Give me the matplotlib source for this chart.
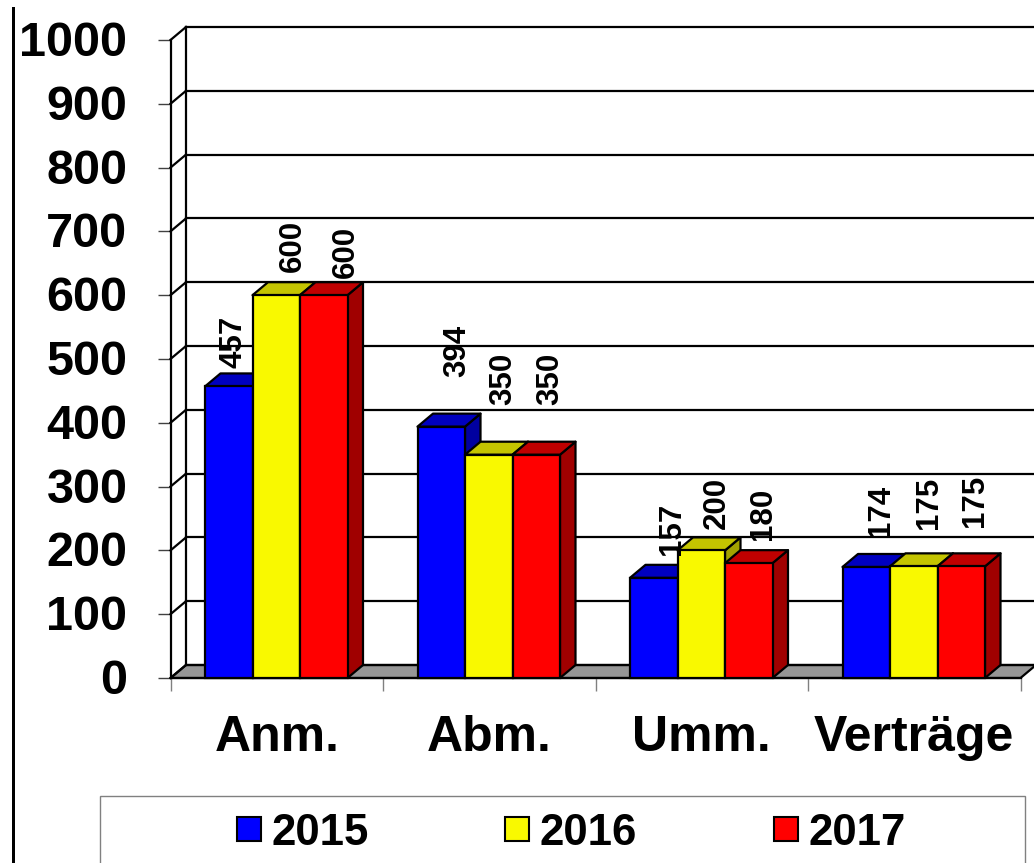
import matplotlib
matplotlib.use('Agg')
import matplotlib.pyplot as plt
from matplotlib.patches import Polygon, Rectangle, Patch
from matplotlib.transforms import ScaledTranslation

plt.rcParams['font.family'] = ['Liberation Sans', 'DejaVu Sans']
plt.rcParams['font.weight'] = 'bold'

categories = ['Anm.', 'Abm.', 'Umm.', 'Verträge']
years = ['2015', '2016', '2017']
values_2015 = [457, 394, 157, 174]
values_2016 = [600, 350, 200, 175]
values_2017 = [600, 350, 180, 175]
y_ticks = [0, 100, 200, 300, 400, 500, 600, 700, 800, 900, 1000]

series = [values_2015, values_2016, values_2017]
front_colors = ['#0000ff', '#f9f900', '#ff0000']
top_colors = ['#0000c0', '#c4c400', '#c00000']
side_colors = ['#0000a0', '#a3a300', '#a00000']

W, H = 1034, 863
DPI = 100
AX_LEFT, AX_RIGHT, AX_BOTTOM, AX_TOP = 170.5, 1020.5, 678, 40

fig = plt.figure(figsize=(W / DPI, H / DPI), dpi=DPI)
ax = fig.add_axes([AX_LEFT / W, 1 - AX_BOTTOM / H,
                   (AX_RIGHT - AX_LEFT) / W, (AX_BOTTOM - AX_TOP) / H])
ax.set_xlim(0, 4)
ax.set_ylim(0, 1000)
ax.patch.set_visible(False)
for spine in ax.spines.values():
    spine.set_visible(False)

# 3D depth, pixels converted to data units
dx = 15.5 / 212.5
dy = 13 / 0.638
bar_w = 47.5 / 212.5
bar_start = 34.5 / 212.5
EDGE = 1.6


def poly(points, color, z, lw=EDGE):
    ax.add_patch(Polygon(points, closed=True, facecolor=color, edgecolor='black',
                         linewidth=lw, joinstyle='round', clip_on=False, zorder=z))


# floor
poly([(0, 0), (dx, dy), (4 + dx, dy), (4, 0)], '#969696', 1)

# back wall and side wall lines
for v in y_ticks:
    ax.plot([dx, 4.1], [v + dy, v + dy], color='black', lw=EDGE, clip_on=False, zorder=2)
    ax.plot([0, dx], [v, v + dy], color='black', lw=EDGE, clip_on=False, zorder=2)
ax.plot([0, 0], [0, 1000], color='black', lw=EDGE, clip_on=False, zorder=2)
ax.plot([dx, dx], [dy, 1000 + dy], color='black', lw=EDGE, clip_on=False, zorder=2)
ax.plot([0, 4], [0, 0], color='black', lw=EDGE, clip_on=False, zorder=2)

# bars, painted left to right so each one covers the previous side face
z = 3
for g in range(len(categories)):
    for s, vals in enumerate(series):
        x0 = g + bar_start + s * bar_w
        x1 = x0 + bar_w
        v = vals[g]
        ax.bar(x0, v, width=bar_w, align='edge', color=front_colors[s],
               edgecolor='black', linewidth=EDGE, zorder=z + 2, clip_on=False)
        poly([(x1, 0), (x1 + dx, dy), (x1 + dx, v + dy), (x1, v)], side_colors[s], z)
        poly([(x0, v), (x0 + dx, v + dy), (x1 + dx, v + dy), (x1, v)], top_colors[s], z + 1)
        z += 3

# rotated value labels: (x shift, gap above bar top) in pixels
label_offsets = [
    [(5, 18), (17, 23), (22, 17)],
    [(16, 50), (15, 50), (14, 50)],
    [(18, 23), (16, 21), (14, 23)],
    [(15, 30), (15, 37), (14, 39)],
]
for g in range(len(categories)):
    for s, vals in enumerate(series):
        ox, oy = label_offsets[g][s]
        ax.annotate(str(vals[g]), xy=(g + bar_start + (s + 0.5) * bar_w, vals[g]),
                    xytext=(ox * 0.72, oy * 0.72), textcoords='offset points',
                    rotation=90, ha='center', va='bottom', fontsize=22.5,
                    fontweight='bold', zorder=200, annotation_clip=False)

ax.set_yticks(y_ticks)
ax.set_yticklabels([str(t) for t in y_ticks], fontsize=35, fontweight='bold')
ax.tick_params(axis='y', length=9.4, width=1, color='#404040', pad=21.6)
up = ScaledTranslation(0, 1.5 / DPI, fig.dpi_scale_trans)
for lab in ax.get_yticklabels():
    lab.set_transform(lab.get_transform() + up)

ax.set_xticks(range(5))
ax.set_xticklabels([])
ax.tick_params(axis='x', length=9.4, width=1, color='#808080')
ax.set_xticks([i + 0.5 for i in range(4)], minor=True)
ax.set_xticklabels(categories, minor=True, fontsize=36, fontweight='bold')
ax.tick_params(axis='x', which='minor', length=0, pad=26.5)

# black rule at the left edge
fig.add_artist(Rectangle((11.5 / W, 0), 3 / W, 1 - 7 / H, transform=fig.transFigure,
                         facecolor='black', edgecolor='none'))

# legend box runs off the bottom of the picture
fig.add_artist(Rectangle((100 / W, -0.01), 925 / W, 0.01 + 1 - 796 / H,
                         transform=fig.transFigure, facecolor='white',
                         edgecolor='#808080', linewidth=1, zorder=1))
handles = [Patch(facecolor=c, edgecolor='black', linewidth=1.5) for c in front_colors]
leg = fig.legend(handles, years, loc='center left', bbox_to_anchor=(237 / W, 1 - 833 / H),
                 ncol=3, frameon=False, prop={'size': 31.5, 'weight': 'bold'},
                 handlelength=0.54, handleheight=0.5, handletextpad=0.24,
                 columnspacing=3.13, borderpad=0, borderaxespad=0)
leg.set_zorder(5)

fig.savefig('out.png', dpi=DPI)
plt.close(fig)
